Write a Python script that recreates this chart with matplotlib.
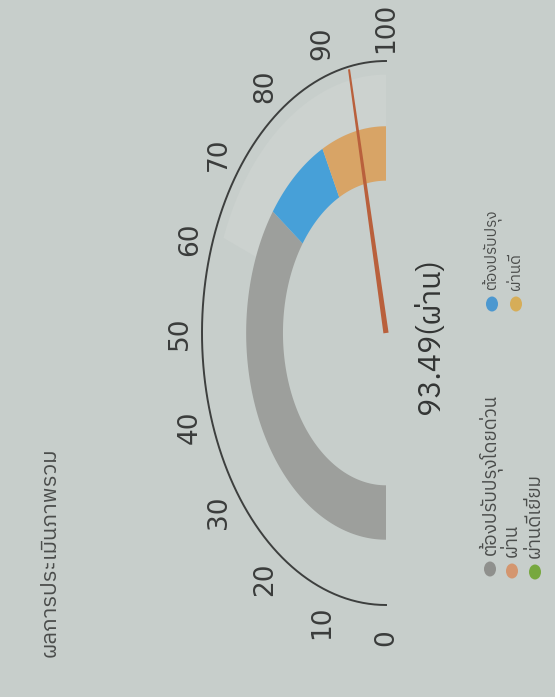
import numpy as np
import matplotlib
matplotlib.use("Agg")
import matplotlib.pyplot as plt
from matplotlib import font_manager as fm
from matplotlib.ft2font import FT2Font
from matplotlib.patches import Ellipse

# ---------------- data ----------------
title = "ผลการประเมินภาพรวม"
tick_values = [0, 10, 20, 30, 40, 50, 60, 70, 80, 90, 100]
band_starts = [0, 70, 85]
band_ends = [70, 85, 100]
band_colors = ["#9d9f9c", "#47a0d8", "#d8a466"]
needle_value = 93.49
value_label = "93.49(ผ่าน)"
legend_labels = ["ต้องปรับปรุงโดยด่วน", "ต้องปรับปรุง", "ผ่าน", "ผ่านดี", "ผ่านดีเยี่ยม"]
legend_colors = ["#8f908d", "#4c98d0", "#d4966f", "#d6ad58", "#77a83f"]

# ---------------- fonts ----------------
def thai_fonts():
    found = []
    for f in fm.fontManager.ttflist:
        try:
            cm = FT2Font(f.fname).get_charmap()
        except Exception:
            continue
        if 0x0E1C in cm and 0x0E48 in cm:
            found.append(f.name)
    return found

tf = thai_fonts()
pref = [n for n in tf if "Thai" in n and "Looped" not in n] + tf
thai = pref[0] if pref else "DejaVu Sans"
fam = [thai, "DejaVu Sans"]

BG = "#c7cecb"
W, H = 555, 697
fig = plt.figure(figsize=(W / 100, H / 100), dpi=100, facecolor=BG)

# gauge axes: unit circle -> ellipse (rx=184px, ry=272px), centre at (386, 333) px from top-left
cx, cy_top, rx, ry = 386, 333, 184, 272
x0, x1, y0, y1 = -1.25, 0.9, -1.2, 1.2
left = cx + x0 * rx
bottom = (H - cy_top) + y0 * ry
ax = fig.add_axes([left / W, bottom / H, (x1 - x0) * rx / W, (y1 - y0) * ry / H])
ax.set_xlim(x0, x1)
ax.set_ylim(y0, y1)
ax.axis("off")
ax.set_facecolor("none")

def ang(v):
    return np.radians(270 - 1.8 * np.asarray(v, dtype=float))

def ring(v0, v1, r0, r1, **kw):
    t = ang(np.linspace(v0, v1, 120))
    xs = np.concatenate([r1 * np.cos(t), r0 * np.cos(t[::-1])])
    ys = np.concatenate([r1 * np.sin(t), r0 * np.sin(t[::-1])])
    ax.fill(xs, ys, lw=0, **kw)

# subtle light outer ring behind
ring(62, 100, 0.76, 0.95, color="#ccd2cf", zorder=1)

# bands
for s, e, c in zip(band_starts, band_ends, band_colors):
    ring(s, e, 0.56, 0.76, color=c, zorder=2)

# outline arc
t = ang(np.linspace(0, 100, 300))
ax.plot(np.cos(t), np.sin(t), color="#3d3f3e", lw=1.4, zorder=3)

# tick labels
for v in tick_values:
    a = ang(v)
    ax.text(1.12 * np.cos(a), 1.12 * np.sin(a), str(v), rotation=90,
            ha="center", va="center", fontsize=19, color="#3a3c3b",
            family="DejaVu Sans", zorder=4)

# needle (tapered)
a = ang(needle_value)
dpx = np.array([np.cos(a) * rx, np.sin(a) * ry])
dpx /= np.hypot(*dpx)
ppx = np.array([-dpx[1], dpx[0]])
pd = np.array([ppx[0] / rx, ppx[1] / ry])
tip = 0.99 * np.array([np.cos(a), np.sin(a)])
base = np.array([0.0, 0.0])
hb, ht = 2.6, 1.0
poly = np.array([base + hb * pd, tip + ht * pd, tip - ht * pd, base - hb * pd])
ax.fill(poly[:, 0], poly[:, 1], color="#b9603c", lw=0, zorder=5)

# value label
ax.text(0.24, -0.01, value_label, rotation=90, ha="center", va="center",
        fontsize=22, color="#333534", family=fam, zorder=6)

# overlay axes in pixel layout for title and legend
ov = fig.add_axes([0, 0, 1, 1])
ov.set_xlim(0, W)
ov.set_ylim(H, 0)
ov.axis("off")
ov.set_facecolor("none")

ov.text(50, 552, title, rotation=90, ha="center", va="center",
        fontsize=16, color="#4a4c4b", family=fam)

row_x = [490, 492, 512, 516, 535]
dot_y = [569, 304, 571, 304, 572]
text_size = [13.5, 11, 13.5, 11, 13.5]
for lab, col, xx, yy, fs in zip(legend_labels, legend_colors, row_x, dot_y, text_size):
    ov.add_patch(Ellipse((xx, yy), 12, 15, color=col, lw=0))
    ov.text(xx, yy - 14, lab, rotation=90, rotation_mode="anchor",
            ha="left", va="center", fontsize=fs, color="#4a4c4b", family=fam)

fig.savefig("out.png", dpi=100, facecolor=BG)
